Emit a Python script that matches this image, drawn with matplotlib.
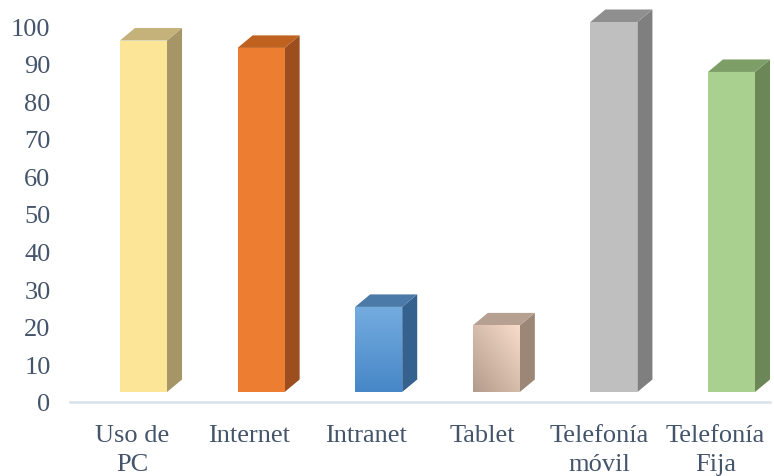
import numpy as np
import matplotlib
matplotlib.use("Agg")
import matplotlib.pyplot as plt
from matplotlib.patches import Polygon
from matplotlib.colors import LinearSegmentedColormap

categories = ["Uso de\nPC", "Internet", "Intranet", "Tablet", "Telefonía\nmóvil", "Telefonía\nFija"]
values = [95, 93, 23, 18, 100, 86.5]
yticks = list(range(0, 101, 10))

# front (top / bottom of gradient), side and top face colours for each bar
front_top = ["#FDE597", "#ED7D31", "#74ACDF", "#F9DDCB", "#BFBFBF", "#A9D08E"]
front_bot = ["#FDE597", "#ED7D31", "#4787C8", "#B39B8B", "#BFBFBF", "#A9D08E"]
side_cols = ["#A69566", "#9C4E1E", "#35618F", "#9C8676", "#7F7F7F", "#6B8657"]
top_cols = ["#C5B27A", "#C0621F", "#4B79A8", "#B5A091", "#8F8F8F", "#7D9E66"]

text_color = "#44546A"
plt.rcParams["font.family"] = ["Liberation Serif", "DejaVu Serif"]

fig = plt.figure(figsize=(7.74, 4.77), dpi=100)

# value axis with category labels
ax = fig.add_axes([70 / 774, 74 / 477, 700 / 774, 376 / 477])
ax.set_xlim(0, 6)
ax.set_ylim(0, 100)
ax.set_yticks(yticks)
ax.set_yticklabels([str(t) for t in yticks], fontsize=19, color=text_color)
ax.set_xticks([i + 0.534 for i in range(len(categories))])
ax.set_xticklabels(categories, fontsize=19, color=text_color, linespacing=1.38)
ax.tick_params(axis="both", length=0)
ax.tick_params(axis="y", pad=14)
ax.tick_params(axis="x", pad=16)
for s in ["top", "right", "left"]:
    ax.spines[s].set_visible(False)
ax.spines["bottom"].set_color("#D9E1EA")
ax.spines["bottom"].set_linewidth(1.8)
ax.patch.set_alpha(0)

# bars drawn as pseudo-3D boxes
bx = fig.add_axes([84.7 / 774, 84 / 477, 705.6 / 774, 370 / 477])
bx.set_xlim(0, 6)
bx.set_ylim(0, 100)
bx.axis("off")

width = 0.40
dx = 15 / 117.6
dy = 12.5 / 370 * 100

for i, v in enumerate(values):
    x0 = i + 0.5 - width / 2
    x1 = x0 + width
    # front face with vertical / diagonal gradient
    front = Polygon([(x0, 0), (x1, 0), (x1, v), (x0, v)], closed=True,
                    facecolor=front_top[i], edgecolor="none", zorder=2)
    bx.add_patch(front)
    cmap = LinearSegmentedColormap.from_list("f%d" % i, [front_bot[i], front_top[i]])
    if i == 3:
        gy, gx = np.mgrid[0:1:64j, 0:1:64j]
        grad = (gx + gy) / 2
    else:
        grad = np.linspace(0, 1, 64).reshape(-1, 1) * np.ones((1, 2))
    im = bx.imshow(grad, cmap=cmap, extent=(x0, x1, 0, v), origin="lower",
                   aspect="auto", zorder=2.1, interpolation="bilinear")
    im.set_clip_path(front)
    # side face
    side = Polygon([(x1, 0), (x1 + dx, dy), (x1 + dx, v + dy), (x1, v)],
                   closed=True, facecolor=side_cols[i], edgecolor="none", zorder=2)
    side.set_clip_on(False)
    bx.add_patch(side)
    # top face
    top = Polygon([(x0, v), (x0 + dx, v + dy), (x1 + dx, v + dy), (x1, v)],
                  closed=True, facecolor=top_cols[i], edgecolor="none", zorder=2)
    top.set_clip_on(False)
    bx.add_patch(top)
bx.set_xlim(0, 6)
bx.set_ylim(0, 100)

fig.savefig("out.png", dpi=100)
